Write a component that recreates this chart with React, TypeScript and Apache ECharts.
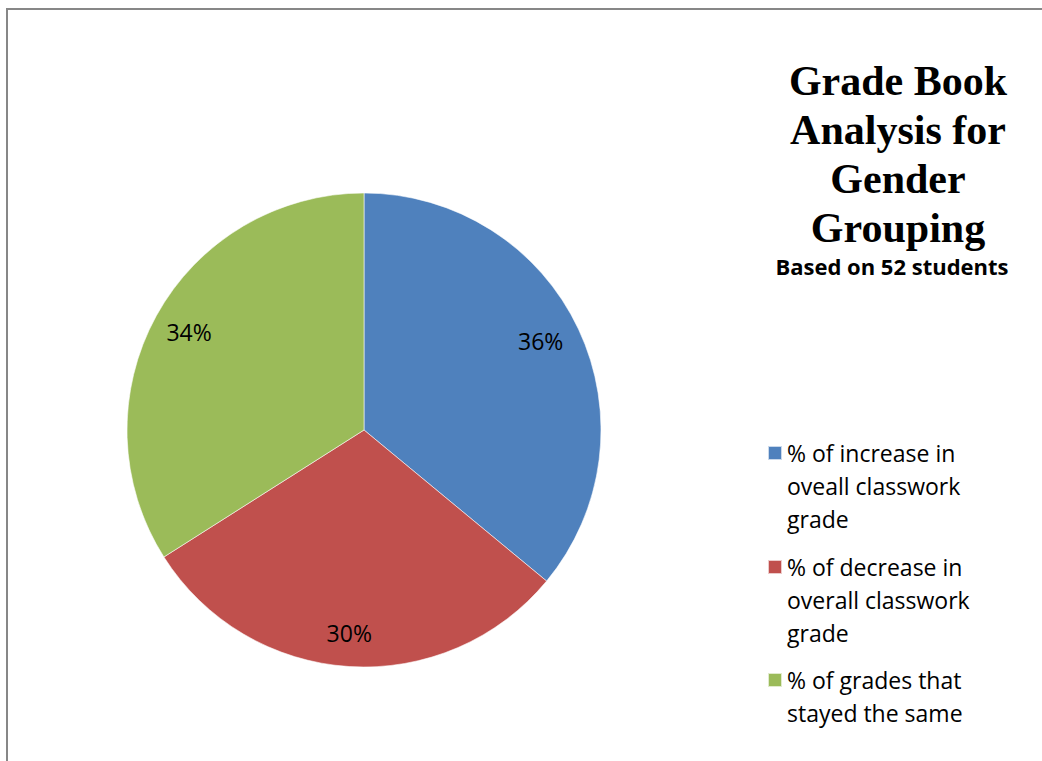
import React, { useEffect, useRef } from "react";
import * as echarts from "echarts";

const categories = [
  "% of increase in oveall classwork grade",
  "% of decrease in overall classwork grade",
  "% of grades that stayed the same",
];
const legendLines = [
  ["% of increase in", "oveall classwork", "grade"],
  ["% of decrease in", "overall classwork", "grade"],
  ["% of grades that", "stayed the same"],
];
const values = [36, 30, 34];
const colors = ["#4F81BD", "#C0504D", "#9BBB59"];
const titleText = "Grade Book\nAnalysis for\nGender\nGrouping";
const subtitleText = "Based on 52 students";

const SANS = "'Open Sans', 'Noto Sans', sans-serif";

export default function App() {
  const ref = useRef<HTMLDivElement>(null);
  useEffect(() => {
    if (!ref.current) return;
    const chart = echarts.init(ref.current, null, { renderer: "svg" });
    const LH = 33;
    const iconCenters = [453, 567, 680];
    const labelOffsets = [[-7, -3], [-2, 0], [3, 0]];
    const option: any = {
      animation: false,
      backgroundColor: "#ffffff",
      title: [
        {
          text: titleText,
          left: 898,
          top: 56,
          padding: 0,
          textAlign: "center",
          textStyle: {
            fontFamily: "'Liberation Serif', 'Times New Roman', serif",
            fontWeight: "bold",
            fontSize: 42,
            lineHeight: 49,
            color: "#000000",
          },
        },
        {
          text: subtitleText,
          left: 892,
          top: 255,
          padding: 0,
          textAlign: "center",
          textStyle: {
            fontFamily: SANS,
            fontWeight: "bold",
            fontSize: 22,
            lineHeight: 22,
            color: "#000000",
          },
        },
      ],
      legend: categories.map((name, i) => {
        const lines = legendLines[i];
        const n = lines.length;
        const blockLines = 2 * n - 1;
        return {
          data: [name],
          orient: "vertical",
          left: 767,
          top: iconCenters[i] - (blockLines * LH) / 2,
          padding: 0,
          itemWidth: 14,
          itemHeight: 14,
          icon: "rect",
          selectedMode: false,
          formatter: () => "\n".repeat(n - 1) + lines.join("\n"),
          textStyle: {
            fontFamily: SANS,
            fontSize: 23,
            lineHeight: LH,
            color: "#000000",
          },
        };
      }),
      graphic: [
        {
          type: "rect",
          silent: true,
          shape: { x: 7, y: 9, width: 1200, height: 900 },
          style: { fill: "none", stroke: "#878787", lineWidth: 2 },
        },
      ],
      series: [
        {
          type: "pie",
          center: [364, 430],
          radius: [0, 237],
          startAngle: 90,
          clockwise: true,
          silent: true,
          label: { show: false },
          labelLine: { show: false },
          itemStyle: { borderColor: "rgba(255,255,255,0.7)", borderWidth: 0.8 },
          data: categories.map((name, i) => ({
            name,
            value: values[i],
            itemStyle: { color: colors[i] },
          })),
        },
        {
          type: "pie",
          center: [364, 430],
          radius: [163, 237],
          startAngle: 90,
          clockwise: true,
          silent: true,
          z: 3,
          itemStyle: { color: "transparent", borderWidth: 0 },
          label: {
            show: true,
            position: "inside",
            formatter: "{d}%",
            fontFamily: SANS,
            fontSize: 23,
            color: "#000000",
          },
          labelLine: { show: false },
          data: categories.map((_, i) => ({
            name: "lbl" + i,
            value: values[i],
            label: { offset: labelOffsets[i] },
          })),
        },
      ],
    };
    chart.setOption(option);
    return () => chart.dispose();
  }, []);
  return (
    <div
      ref={ref}
      style={{ position: "absolute", left: 0, top: 0, width: 1042, height: 761 }}
    />
  );
}
